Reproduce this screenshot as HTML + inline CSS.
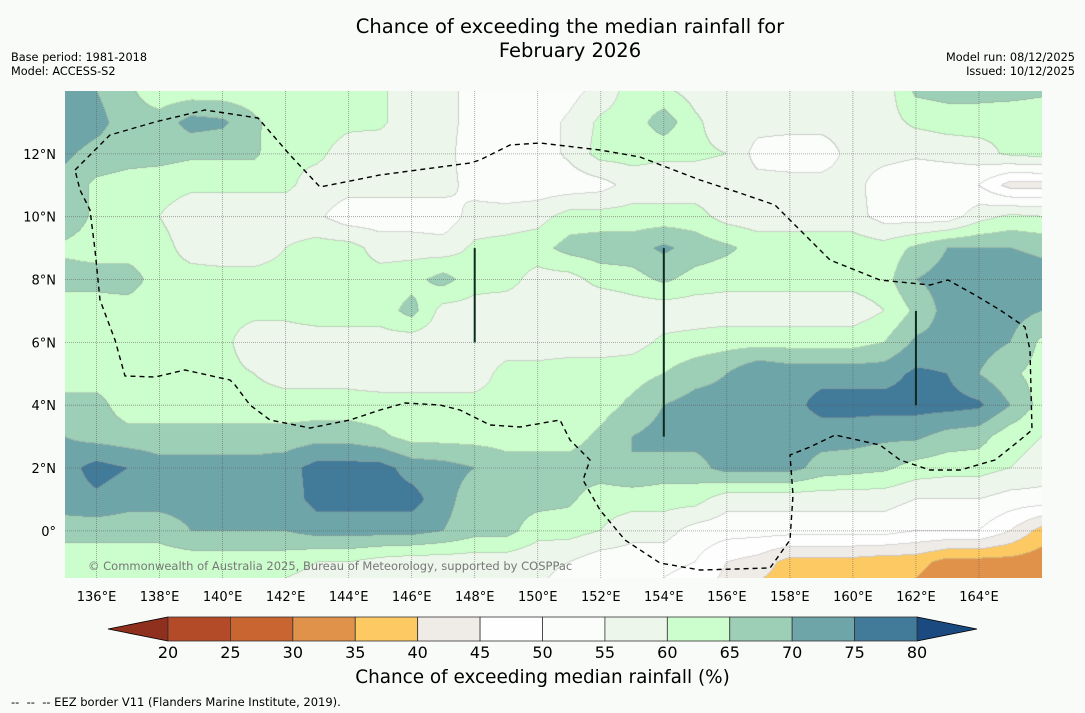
<!DOCTYPE html>
<html><head><meta charset="utf-8">
<style>
body{margin:0;background:#f9fbf9;font-family:"DejaVu Sans","Liberation Sans",sans-serif;}
#wrap{position:relative;width:1085px;height:713px;overflow:hidden;background:#f9fbf9;}
.t{position:absolute;white-space:nowrap;color:#000;}
</style></head><body>
<div id="wrap">
<div class="t" style="left:0;width:1140px;top:15px;text-align:center;font-size:19.5px;line-height:24px;">Chance of exceeding the median rainfall for<br>February 2026</div>
<div class="t" style="left:11px;top:51px;font-size:11.3px;line-height:14px;">Base period: 1981-2018<br>Model: ACCESS-S2</div>
<div class="t" style="right:10px;top:51px;font-size:11.3px;line-height:14px;text-align:right;">Model run: 08/12/2025<br>Issued: 10/12/2025</div>
<canvas id="map" width="977" height="487" style="position:absolute;left:65px;top:91px;"></canvas>
<svg id="ov" width="1085" height="713" style="position:absolute;left:0;top:0;"></svg>
<div class="t" style="left:0;width:1085px;top:667px;text-align:center;font-size:18.4px;">Chance of exceeding median rainfall (%)</div>
<div class="t" style="left:11px;top:695px;font-size:11.5px;">-- &nbsp;-- &nbsp;-- EEZ border V11 (Flanders Marine Institute, 2019).</div>
</div>
<script>
const lons=[135,136,137,138,139,140,141,142,143,144,145,146,147,148,149,150,151,152,153,154,155,156,157,158,159,160,161,162,163,164,165,166];
const lats=[14,13,12,11,10,9,8,7,6,5,4,3,2,1,0,-1,-2];
const grid=[
[72,70,66,62,62,62,62,62,61,61,61,57,57,53,52,52,53,57,62,61,58,57,58,58,58,57,57,66,67,67,67,66],
[74,72,67,67,72,71,66,62,62,61,61,57,57,53,52,52,56,61,62,68,61,57,57,57,57,57,58,61,62,62,61,61],
[71,68,67,67,66,66,66,61,61,58,57,57,57,52,52,52,56,62,62,61,61,60,53,52,52,57,57,56,57,58,61,62],
[68,64,63,62,61,61,61,61,58,57,57,57,57,53,52,52,52,53,57,57,57,57,57,57,57,57,52,50,50,50,43,43],
[68,64,63,60,57,57,57,57,56,52,52,52,52,57,57,58,62,62,62,62,62,58,57,57,57,57,53,52,52,58,61,60],
[64,63,62,62,58,57,57,60,62,62,58,58,57,61,62,63,67,68,68,71,68,66,63,63,63,63,62,66,70,70,70,69],
[67,67,68,62,62,62,62,62,62,62,62,63,67,62,62,58,58,62,63,66,63,62,62,62,62,62,63,70,72,73,73,72],
[62,62,62,62,62,61,61,61,62,62,62,67,58,58,57,57,57,55,57,57,57,57,57,57,57,57,60,66,72,72,72,70],
[62,62,62,62,61,61,58,58,58,58,58,57,57,57,57,57,57,57,58,61,62,63,63,63,63,63,65,71,72,72,70,64],
[62,62,62,62,62,61,60,58,58,58,57,57,57,57,62,62,63,63,63,65,68,70,75,73,73,73,73,76,75,70,66,63],
[67,67,62,62,62,62,62,62,62,62,62,62,62,62,62,62,62,63,66,70,72,72,72,73,77,77,77,77,77,76,70,63],
[70,68,67,67,67,67,67,67,68,68,66,63,63,63,63,63,63,66,70,72,72,72,72,72,72,72,71,71,68,67,62,60],
[73,77,75,72,72,72,72,73,77,77,77,73,72,70,67,67,67,68,70,68,68,72,72,72,68,67,66,63,62,62,60,58],
[73,74,72,72,72,72,72,72,77,77,77,77,72,67,67,67,66,62,62,62,62,57,57,57,57,57,57,55,55,55,53,53],
[67,67,67,67,70,70,70,70,72,72,72,72,70,67,67,62,62,60,57,57,53,52,52,52,52,52,52,50,50,50,45,38],
[62,62,62,62,62,62,62,62,60,60,58,57,57,57,57,56,55,52,52,52,50,45,43,38,38,38,37,37,33,33,33,32],
[62,62,62,62,62,62,60,58,57,57,57,57,57,57,57,55,53,50,50,48,45,43,38,37,37,37,36,33,30,30,30,30]];
const levels=[20,25,30,35,40,45,50,55,60,65,70,75,80];
const bandColors=["#8f2f1e","#b34a28","#c96531","#e0914a","#fdc962","#efebe7","#fefefe","#fbfdfb","#ecf6ea","#ccfdcc","#9ccfb6","#6ea5a8","#427a99","#1a4a80"];
const lonTicks=[136,138,140,142,144,146,148,150,152,154,156,158,160,162,164];
const latTicks=[12,10,8,6,4,2,0];

const X0=65,W=977,Y0=91,H=487,LON0=135,LON1=166,LAT0=14,LAT1=-1.5;
const xs=lon=>X0+(lon-LON0)/(LON1-LON0)*W;
const ys=lat=>Y0+(LAT0-lat)/(LAT0-LAT1)*H;
function hex(c){return [parseInt(c.substr(1,2),16),parseInt(c.substr(3,2),16),parseInt(c.substr(5,2),16)];}
const rgb=bandColors.map(hex);
function band(v){let b=0;for(let i=0;i<levels.length;i++){if(v>=levels[i])b=i+1;}return b;}
function val(lon,lat){
  let fi=(lon-lons[0]);let fj=(lats[0]-lat);
  fi=Math.max(0,Math.min(lons.length-1.001,fi));fj=Math.max(0,Math.min(lats.length-1.001,fj));
  const i=Math.floor(fi),j=Math.floor(fj),a=fi-i,b=fj-j;
  return grid[j][i]*(1-a)*(1-b)+grid[j][i+1]*a*(1-b)+grid[j+1][i]*(1-a)*b+grid[j+1][i+1]*a*b;
}
const cv=document.getElementById('map');const ctx=cv.getContext('2d');
const img=ctx.createImageData(W,H);const B=new Uint8Array(W*H);
for(let y=0;y<H;y++){const lat=LAT0-(y+0.5)/H*(LAT0-LAT1);
 for(let x=0;x<W;x++){const lon=LON0+(x+0.5)/W*(LON1-LON0);B[y*W+x]=band(val(lon,lat));}}
for(let y=0;y<H;y++)for(let x=0;x<W;x++){
 const k=y*W+x,b=B[k];let c=rgb[b];
 const edge=(x<W-1&&B[k+1]!==b)||(y<H-1&&B[k+W]!==b);
 const p=k*4;
 if(edge){img.data[p]=c[0]*0.6+60;img.data[p+1]=c[1]*0.6+60;img.data[p+2]=c[2]*0.6+60;}
 else{img.data[p]=c[0];img.data[p+1]=c[1];img.data[p+2]=c[2];}
 img.data[p+3]=255;}
ctx.putImageData(img,0,0);

const NS='http://www.w3.org/2000/svg';const svg=document.getElementById('ov');
function mk(t,a){const e=document.createElementNS(NS,t);for(const k in a)e.setAttribute(k,a[k]);svg.appendChild(e);return e;}
lonTicks.forEach(l=>{
 const g=mk('line',{x1:xs(l),x2:xs(l),y1:Y0,y2:Y0+H,stroke:'#555','stroke-width':0.8,'stroke-dasharray':'1,1','stroke-opacity':0.6});
 
 
 const t=mk('text',{x:xs(l),y:601,'text-anchor':'middle','font-size':13,'font-family':'DejaVu Sans, sans-serif'});t.textContent=l+'°E';
 
 
});
latTicks.forEach(l=>{
 const g=mk('line',{x1:X0,x2:X0+W,y1:ys(l),y2:ys(l),stroke:'#555','stroke-width':0.8,'stroke-dasharray':'1,1','stroke-opacity':0.6});
 
 
 const t=mk('text',{x:56,y:ys(l)+5,'text-anchor':'end','font-size':13,'font-family':'DejaVu Sans, sans-serif'});t.textContent=l===0?'0°':l+'°N';
 
 
});
const eez=[[75,170],[90,155],[110,135],[155,122],[205,110],[258,118],[290,155],[320,187],[380,175],[470,163],[480,160],[510,145],[540,143],[600,150],[640,157],[700,180],[740,193],[775,205],[800,230],[830,260],[880,280],[930,285],[948,280],[975,295],[1000,310],[1025,327],[1030,350],[1032,430],[1020,440],[995,460],[960,470],[930,470],[900,460],[880,445],[835,435],[810,447],[790,455],[793,495],[790,540],[770,568],[700,570],[660,563],[625,540],[600,510],[583,480],[590,460],[570,440],[560,420],[520,427],[490,425],[460,410],[440,405],[405,403],[380,410],[350,420],[310,428],[270,420],[250,405],[235,385],[230,380],[185,370],[155,377],[125,376],[115,340],[100,300],[95,250],[90,210],[80,190],[75,170]];
const ep=mk('polyline',{points:eez.map(p=>p.join(',')).join(' '),fill:'none',stroke:'#000','stroke-width':1.4,'stroke-dasharray':'5,4'});


[[148,9,6],[154,9,3],[162,7,4]].forEach(s=>{
 const l=mk('line',{x1:xs(s[0]),x2:xs(s[0]),y1:ys(s[1]),y2:ys(s[2]),stroke:'#0d2a1e','stroke-width':2});
 
 
});
const cp=mk('text',{x:88,y:570,'font-size':11.5,fill:'#777','font-family':'DejaVu Sans, sans-serif'});
cp.textContent='© Commonwealth of Australia 2025, Bureau of Meteorology, supported by COSPPac';


const cbX0=168,cbX1=917,cbY=617,cbH=24,bw=(cbX1-cbX0)/(levels.length-1);
const lt=mk('polygon',{points:`108,${cbY+cbH/2} ${cbX0},${cbY} ${cbX0},${cbY+cbH}`,fill:bandColors[0],stroke:'#000','stroke-width':0.8});


const rt=mk('polygon',{points:`977,${cbY+cbH/2} ${cbX1},${cbY} ${cbX1},${cbY+cbH}`,fill:bandColors[bandColors.length-1],stroke:'#000','stroke-width':0.8});


for(let i=0;i<levels.length-1;i++){
 const r=mk('rect',{x:cbX0+i*bw,y:cbY,width:bw,height:cbH,fill:bandColors[i+1],stroke:'#333','stroke-width':0.8});
 
 
}
levels.forEach((lv,i)=>{
 const t=mk('text',{x:cbX0+i*bw,y:658,'text-anchor':'middle','font-size':16,'font-family':'DejaVu Sans, sans-serif'});t.textContent=lv;
 
 
});
</script>
</body></html>
